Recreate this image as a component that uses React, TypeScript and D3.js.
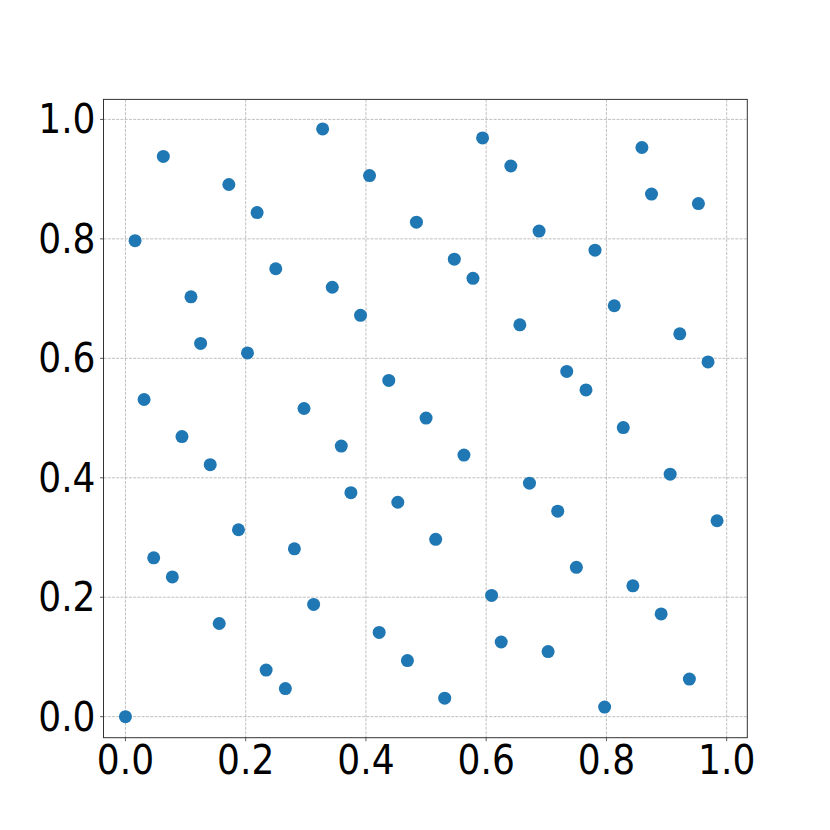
import React from 'react'
import * as d3 from 'd3'

// point coordinates
const xs = [
  0.0, 0.016, 0.031, 0.047, 0.063, 0.078, 0.094, 0.109, 0.125, 0.141, 0.156, 0.172, 0.188, 0.203, 0.219, 0.234,
  0.25, 0.266, 0.281, 0.297, 0.313, 0.328, 0.344, 0.359, 0.375, 0.391, 0.406, 0.422, 0.438, 0.453, 0.469, 0.484,
  0.5, 0.516, 0.531, 0.547, 0.563, 0.578, 0.594, 0.609, 0.625, 0.641, 0.656, 0.672, 0.688, 0.703, 0.719, 0.734,
  0.75, 0.766, 0.781, 0.797, 0.813, 0.828, 0.844, 0.859, 0.875, 0.891, 0.906, 0.922, 0.938, 0.953, 0.969, 0.984,
]
const ys = [
  0.0, 0.797, 0.531, 0.266, 0.938, 0.234, 0.469, 0.703, 0.625, 0.422, 0.156, 0.891, 0.313, 0.609, 0.844, 0.078,
  0.75, 0.047, 0.281, 0.516, 0.188, 0.984, 0.719, 0.453, 0.375, 0.672, 0.906, 0.141, 0.563, 0.359, 0.094, 0.828,
  0.5, 0.297, 0.031, 0.766, 0.438, 0.734, 0.969, 0.203, 0.125, 0.922, 0.656, 0.391, 0.813, 0.109, 0.344, 0.578,
  0.25, 0.547, 0.781, 0.016, 0.688, 0.484, 0.219, 0.953, 0.875, 0.172, 0.406, 0.641, 0.063, 0.859, 0.594, 0.328,
]
const ticks = [0, 0.2, 0.4, 0.6, 0.8, 1.0]

const W = 830
const H = 830
const left = 103.5
const right = 747.3
const top = 99.4
const bottom = 737.7

const x = d3.scaleLinear().domain([-0.0365, 1.0343]).range([left, right])
const y = d3.scaleLinear().domain([-0.0352, 1.0335]).range([bottom, top])

const font = "'DejaVu Sans', sans-serif"

export default function App() {
  return (
    <svg width={W} height={H} style={{ position: 'absolute', left: 0, top: 0, background: '#fff' }}>
      {/* grid */}
      <g stroke="#b0b0b0" strokeWidth={0.8} strokeDasharray="2.96,1.28">
        {ticks.map(t => (
          <line key={'gx' + t} x1={x(t)} x2={x(t)} y1={top} y2={bottom} />
        ))}
        {ticks.map(t => (
          <line key={'gy' + t} x1={left} x2={right} y1={y(t)} y2={y(t)} />
        ))}
      </g>
      {/* points */}
      <g fill="#1f77b4">
        {xs.map((v, i) => (
          <circle key={i} cx={x(v)} cy={y(ys[i])} r={6.5} />
        ))}
      </g>
      {/* spines */}
      <rect x={left} y={top} width={right - left} height={bottom - top} fill="none" stroke="#333" strokeWidth={1} />
      {/* ticks & labels */}
      <g stroke="#333" strokeWidth={0.8}>
        {ticks.map(t => (
          <line key={'tx' + t} x1={x(t)} x2={x(t)} y1={bottom} y2={bottom + 3.5} />
        ))}
        {ticks.map(t => (
          <line key={'ty' + t} x1={left} x2={left - 3.5} y1={y(t)} y2={y(t)} />
        ))}
      </g>
      <g fontFamily={font} fontSize={40} fill="#000" style={{ fontStretch: 'condensed' }}>
        {ticks.map(t => (
          <text key={'lx' + t} x={x(t)} y={bottom + 7} textAnchor="middle" dominantBaseline="hanging">
            {d3.format('.1f')(t)}
          </text>
        ))}
        {ticks.map(t => (
          <text key={'ly' + t} x={left - 8} y={y(t)} textAnchor="end" dominantBaseline="central">
            {d3.format('.1f')(t)}
          </text>
        ))}
      </g>
    </svg>
  )
}
